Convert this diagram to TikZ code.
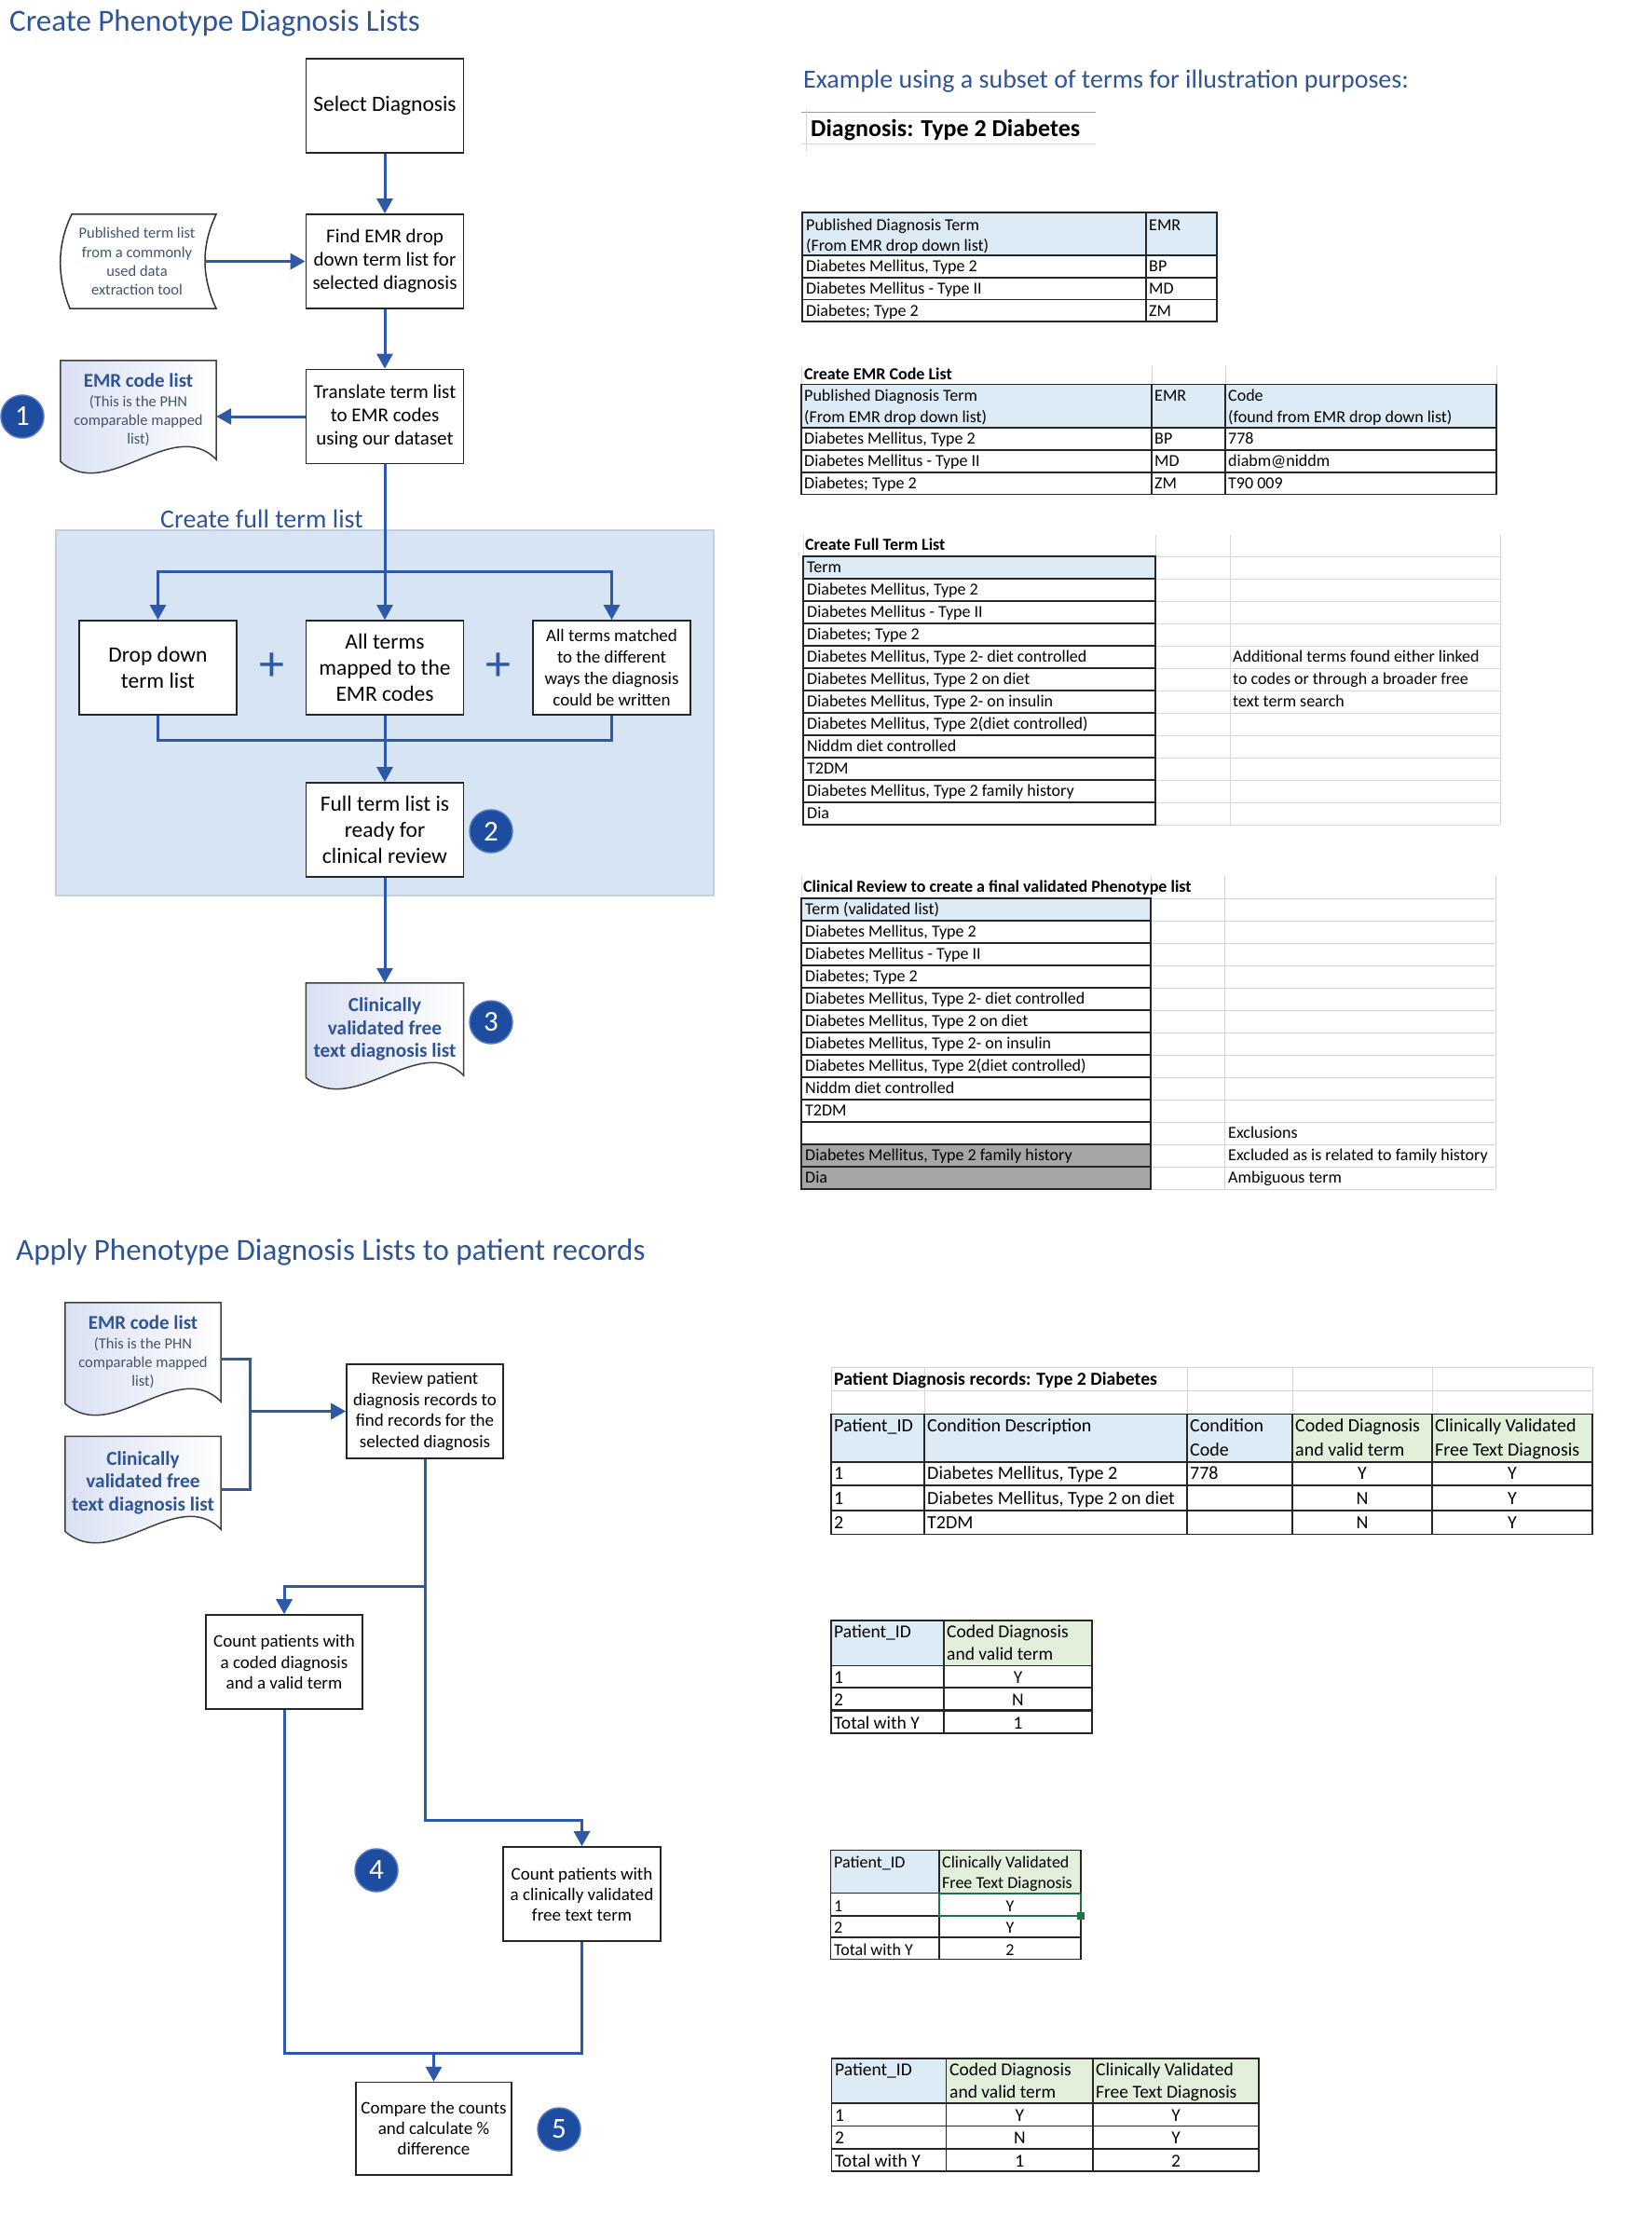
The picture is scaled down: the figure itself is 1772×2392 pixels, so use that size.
\documentclass[tikz,border=0pt]{standalone}
\usepackage{fontspec}
\setmainfont{Carlito}
\usetikzlibrary{arrows.meta}
\usetikzlibrary{calc}
\usetikzlibrary{backgrounds}

\definecolor{flowblue}{RGB}{46,89,168}
\definecolor{headblue}{RGB}{47,84,150}
\definecolor{panelblue}{RGB}{214,228,244}
\definecolor{paneledge}{RGB}{196,208,224}
\definecolor{numblue}{RGB}{30,76,160}
\definecolor{numedge}{RGB}{80,120,196}
\definecolor{notegray}{RGB}{68,84,106}
\definecolor{docshade}{RGB}{218,224,243}
\definecolor{cellblue}{RGB}{221,235,247}
\definecolor{cellgreen}{RGB}{226,239,218}
\definecolor{cellgray}{RGB}{166,166,166}
\definecolor{gridgray}{RGB}{214,214,214}
\definecolor{selgreen}{RGB}{33,115,70}

\newcommand{\fTitle}{\fontsize{33}{40}\selectfont}
\newcommand{\fSub}{\fontsize{28}{34}\selectfont}
\newcommand{\fDiag}{\fontsize{26}{31}\selectfont\bfseries}
\newcommand{\fBig}{\fontsize{23.5}{28}\selectfont}
\newcommand{\fBox}{\fontsize{21}{25}\selectfont}
\newcommand{\fSmall}{\fontsize{19}{22.8}\selectfont}
\newcommand{\fNote}{\fontsize{16.5}{20.3}\selectfont}
\newcommand{\fDocT}{\fontsize{21}{25}\selectfont\bfseries}
\newcommand{\fDoc}{\fontsize{21.3}{24.5}\selectfont\bfseries}
\newcommand{\fNum}{\fontsize{31}{31}\selectfont}
\newcommand{\fPlus}{\fontsize{54}{54}\selectfont}
\newcommand{\fTab}{\fontsize{18}{21}\selectfont}
\newcommand{\fTabB}{\fontsize{18}{21}\selectfont\bfseries}
\newcommand{\fTabL}{\fontsize{19.5}{23}\selectfont}
\newcommand{\fTabW}{\fontsize{20}{24}\selectfont}
\newcommand{\fTabLB}{\fontsize{19.7}{23}\selectfont\bfseries}

\newcommand{\docoutline}[1]{%
\draw[docline] (#1.north west) -- (#1.north east) -- (#1.south east)
.. controls ($(#1.south east)!0.28!(#1.south west)+(0,-48)$) and ($(#1.south east)!0.7!(#1.south west)+(0,47)$) .. ($(#1.south west)+(0,2)$) -- cycle;}

\begin{document}
\begin{tikzpicture}[x=1pt,y=-1pt,
box/.style={draw=black!85,fill=white,line width=1.8pt,minimum width=169pt,minimum height=101pt,inner sep=0pt,align=center},
docbox/.style={minimum width=167pt,inner sep=0pt,align=center},
docline/.style={draw=black!75,line width=1.5pt,left color=docshade,right color=white},
tapeline/.style={draw=black!80,line width=1.5pt,fill=white},
num/.style={circle,fill=numblue,draw=numedge,line width=1.5pt,minimum size=46pt,inner sep=0pt,text=white,font=\fNum},
plussign/.style={text=flowblue,font=\fPlus,inner sep=0pt},
flow/.style={draw=flowblue,line width=3pt,-{Triangle[length=16pt,width=17pt]}},
link/.style={draw=flowblue,line width=3pt},
tab/.style={draw=black!85,line width=1.4pt},
tabthick/.style={draw=black!85,line width=2.6pt},
xlgrid/.style={draw=gridgray,line width=1pt},
cell/.style={anchor=west,inner sep=0pt,text height=11.5pt,text depth=0pt,font=\fTab},
ccell/.style={cell,anchor=center},
lcell/.style={cell,font=\fTabL,text height=12.5pt},
lccell/.style={lcell,anchor=center}]
\useasboundingbox (0,0) rectangle (1772,2392);

\node (t1) [anchor=base west,inner sep=0pt,font=\fTitle,text=headblue] at (10,34) {Create Phenotype Diagnosis Lists};
\node (t2) [anchor=base west,inner sep=0pt,font=\fTitle,text=headblue] at (17,1352) {Apply Phenotype Diagnosis Lists to patient records};

\draw[tapeline] (77,230) -- (232,230) .. controls (216,263) and (216,297) .. (232,331) -- (75,331) .. controls (61,297) and (61,263) .. (77,230) -- cycle;
\fill[panelblue,draw=paneledge,line width=1.5pt] (60,569) rectangle (766,961);

\node (sel) [box,font=\fBig] at (413,113.5) {Select Diagnosis};
\node (find) [box,font=\fBox] at (413,280.5) {Find EMR drop\\down term list for\\selected diagnosis};
\node (trans) [box,font=\fBox] at (413,447) {Translate term list\\to EMR codes\\using our dataset};
\node (pub) [minimum width=146pt,minimum height=101pt,inner sep=0pt,align=center,font=\fNote,text=notegray] at (147,280.5) {Published term list\\from a commonly\\used data\\extraction tool};
\node (emr1) [docbox,minimum height=106pt,font=\fNote,text=notegray] at (148.5,440) {{\fDocT\color{headblue}EMR code list}\\(This is the PHN\\comparable mapped\\list)};
\node (n1) [num] at (24,447) {1};

\draw[flow] (sel) -- (find);
\draw[flow] (pub) -- (find);
\draw[flow] (find) -- (trans);
\draw[flow] (trans.west) -- (trans.west -| emr1.east);

\node (lbl) [anchor=base west,inner sep=0pt,font=\fSub,text=headblue] at (172,566) {Create full term list};
\node (drop) [box,font=\fBig] at (169.5,716.5) {Drop down\\term list};
\node (mapped) [box,font=\fBig] at (413,716.5) {All terms\\mapped to the\\EMR codes};
\node (matched) [box,font=\fSmall] at (656.5,716.5) {All terms matched\\to the different\\ways the diagnosis\\could be written};
\node (p1) [plussign] at (292,716) {+};
\node (p2) [plussign] at (535,716) {+};
\node (full) [box,font=\fBig] at (413,890.5) {Full term list is\\ready for\\clinical review};
\node (n2) [num] at (527,892) {2};
\node (cv1) [docbox,minimum width=169pt,minimum height=99pt,font=\fDoc,text=headblue] at (413,1104.5) {Clinically\\validated free\\text diagnosis list};
\node (n3) [num] at (527,1097) {3};

\coordinate (fan) at (413,613);
\coordinate (join) at (413,794);
\draw[flow] (trans) -- (mapped);
\draw[flow] (fan) -| (drop);
\draw[flow] (fan) -| (matched);
\draw[link] (drop) |- (join) -| (matched);
\draw[flow] (mapped) -- (full);
\draw[flow] (full) -- (cv1);

\node (emr2) [docbox,minimum height=106pt,font=\fNote,text=notegray] at (153.5,1451) {{\fDocT\color{headblue}EMR code list}\\(This is the PHN\\comparable mapped\\list)};
\node (cv2) [docbox,minimum height=99.5pt,font=\fDoc,text=headblue] at (153.5,1591.3) {Clinically\\validated free\\text diagnosis list};
\node (review) [box,line width=1.6pt,minimum width=168pt,font=\fSmall] at (456,1514.5) {Review patient\\diagnosis records to\\find records for the\\selected diagnosis};
\node (count1) [box,line width=1.6pt,minimum width=168pt,font=\fSmall] at (305,1783.5) {Count patients with\\a coded diagnosis\\and a valid term};
\node (count2) [box,line width=1.6pt,font=\fontsize{19}{22}\selectfont] at (624.5,2032.5) {Count patients with\\a clinically validated\\free text term};
\node (compare) [box,line width=1.6pt,minimum width=167pt,minimum height=99.5pt,font=\fontsize{19}{22}\selectfont] at (465.5,2284.3) {Compare the counts\\and calculate \%\\difference};
\node (n4) [num] at (404,2007) {4};
\node (n5) [num] at (600,2285) {5};

\coordinate (jn) at (268,1514.5);
\coordinate (s1) at (305,1702);
\coordinate (s2) at (624.5,1953);
\coordinate (m2) at (465.5,2203.5);
\draw[link] ([yshift=-7pt]emr2.east) -| (jn) |- ([yshift=-7pt]cv2.east);
\draw[flow] (jn) -- (review);
\draw[flow] (review) |- (s1) -- (count1);
\draw[flow] (review) |- (s2) -- (count2);
\draw[link] (count1) |- (m2) -| (count2);
\draw[flow] (m2) -- (compare);

\begin{scope}[on background layer]
\docoutline{emr1}
\docoutline{cv1}
\docoutline{emr2}
\docoutline{cv2}
\end{scope}

\node (ex) [anchor=base west,inner sep=0pt,font=\fSub,text=headblue] at (862,95) {Example using a subset of terms for illustration purposes:};
\draw[draw=black!40,line width=1.2pt] (860,120.7) -- (1176,120.7);
\draw[xlgrid] (860,155) -- (1176,155) (865,118) -- (865,163);
\node (dg) [anchor=base west,inner sep=0pt,font=\fDiag] at (870,146.7) {Diagnosis: Type 2 Diabetes};

\fill[cellblue] (861,228) rectangle (1306,274);
\draw[tab] (861,228) rectangle (1306,345) (1230,228) -- (1230,345);
\foreach \y in {274,298,321.7} \draw[tab] (861,\y) -- (1306,\y);
\node (pa) [cell] at (865,241.7) {Published Diagnosis Term};
\node (pb) [cell] at (865,264) {(From EMR drop down list)};
\node (pc) [cell] at (1233,241.7) {EMR};
\foreach \lbl/\emr [count=\k] in {{Diabetes Mellitus, Type 2}/BP,{Diabetes Mellitus - Type II}/MD,{Diabetes; Type 2}/ZM}{
\node (pt\k) [cell] at (865,262.3+23.7*\k) {\lbl};
\node (pe\k) [cell] at (1233,262.3+23.7*\k) {\emr};}

\draw[xlgrid] (860,393) -- (860,412.7) (1236,393) -- (1236,412.7) (1315,393) -- (1315,412.7) (1606,393) -- (1606,412.7);
\node (ct) [cell,font=\fTabB] at (863,401.7) {Create EMR Code List};
\fill[cellblue] (860,412.7) rectangle (1606,459);
\draw[tab] (860,412.7) rectangle (1606,530.7) (1236,412.7) -- (1236,530.7) (1315,412.7) -- (1315,530.7);
\foreach \y in {459,483,507} \draw[tab] (860,\y) -- (1606,\y);
\node (ca) [cell] at (863,425) {Published Diagnosis Term};
\node (cb) [cell] at (863,448) {(From EMR drop down list)};
\node (cc) [cell] at (1239,425) {EMR};
\node (cd) [cell] at (1318,425) {Code};
\node (ce) [cell] at (1318,448) {(found from EMR drop down list)};
\foreach \lbl/\emr/\code [count=\k] in {{Diabetes Mellitus, Type 2}/BP/778,{Diabetes Mellitus - Type II}/MD/diabm@niddm,{Diabetes; Type 2}/ZM/T90 009}{
\node (cl\k) [cell] at (863,447+24*\k) {\lbl};
\node (cm\k) [cell] at (1239,447+24*\k) {\emr};
\node (cn\k) [cell] at (1318,447+24*\k) {\code};}

\draw[xlgrid] (862,574) -- (862,597) (1240,574) -- (1240,597) (1320,574) -- (1320,885) (1610,574) -- (1610,885);
\foreach \k in {0,...,12} \draw[xlgrid] (1240,597+24*\k) -- (1610,597+24*\k);
\node (ftt) [cell,font=\fTabB] at (864,585) {Create Full Term List};
\fill[cellblue] (862,597) rectangle (1240,621);
\draw[tab] (862,597) rectangle (1240,885);
\foreach \k in {1,...,11} \draw[tab] (862,597+24*\k) -- (1240,597+24*\k);
\node (ft0) [cell] at (866,609) {Term};
\foreach \lbl [count=\k] in {{Diabetes Mellitus, Type 2},{Diabetes Mellitus - Type II},{Diabetes; Type 2},{Diabetes Mellitus, Type 2- diet controlled},{Diabetes Mellitus, Type 2 on diet},{Diabetes Mellitus, Type 2- on insulin},{Diabetes Mellitus, Type 2(diet controlled)},{Niddm diet controlled},{T2DM},{Diabetes Mellitus, Type 2 family history},{Dia}}
\node (ft\k) [cell] at (866,609+24*\k) {\lbl};
\node (fa) [cell] at (1323,705) {Additional terms found either linked};
\node (fb) [cell] at (1323,729) {to codes or through a broader free};
\node (fc) [cell] at (1323,753) {text term search};

\draw[xlgrid] (860,940) -- (860,964) (1235,940) -- (1235,964) (1314,940) -- (1314,1276) (1605,940) -- (1605,1276);
\foreach \k in {0,...,13} \draw[xlgrid] (1235,964+24*\k) -- (1605,964+24*\k);
\node (vtt) [cell,font=\fTabB] at (862,952) {Clinical Review to create a final validated Phenotype list};
\fill[cellblue] (860,964) rectangle (1235,988);
\fill[cellgray] (860,1228) rectangle (1235,1276);
\draw[tab] (860,964) rectangle (1235,1276);
\foreach \k in {1,...,12} \draw[tab] (860,964+24*\k) -- (1235,964+24*\k);
\node (vt0) [cell] at (864,976) {Term (validated list)};
\foreach \lbl [count=\k] in {{Diabetes Mellitus, Type 2},{Diabetes Mellitus - Type II},{Diabetes; Type 2},{Diabetes Mellitus, Type 2- diet controlled},{Diabetes Mellitus, Type 2 on diet},{Diabetes Mellitus, Type 2- on insulin},{Diabetes Mellitus, Type 2(diet controlled)},{Niddm diet controlled},{T2DM}}
\node (vt\k) [cell] at (864,976+24*\k) {\lbl};
\node (vt11) [cell] at (864,1240) {Diabetes Mellitus, Type 2 family history};
\node (vt12) [cell] at (864,1264) {Dia};
\node (xa) [cell] at (1318,1216) {Exclusions};
\node (xb) [cell] at (1318,1240) {Excluded as is related to family history};
\node (xc) [cell] at (1318,1264) {Ambiguous term};

\foreach \x in {892,992,1274,1387,1537,1709} \draw[xlgrid] (\x,1467) -- (\x,1517.7);
\draw[xlgrid] (892,1467) -- (1709,1467) (892,1492) -- (1709,1492);
\node (pdt) [lcell,font=\fTabLB] at (895,1480.7) {Patient Diagnosis records: Type 2 Diabetes};
\fill[cellblue] (892,1517.7) rectangle (1387,1569);
\fill[cellgreen] (1387,1517.7) rectangle (1709,1569);
\draw[tab] (892,1517.7) rectangle (1709,1646.7);
\foreach \x in {992,1274,1387,1537} \draw[tab] (\x,1517.7) -- (\x,1646.7);
\draw[tab] (892,1569) -- (1709,1569) (892,1594) -- (1709,1594);
\draw[tabthick] (892,1621) -- (1709,1621);
\node (ha) [lcell,font=\fTabW] at (895,1530.7) {Patient\_ID};
\node (hb) [lcell,font=\fTabW] at (995,1530.7) {Condition Description};
\node (hc) [lcell,font=\fTabW] at (1277,1530.7) {Condition};
\node (hd) [lcell,font=\fTabW] at (1277,1556) {Code};
\node (he) [lcell,font=\fTabW] at (1390,1530.7) {Coded Diagnosis};
\node (hf) [lcell,font=\fTabW] at (1390,1556) {and valid term};
\node (hg) [lcell,font=\fTabW] at (1540,1530.7) {Clinically Validated};
\node (hh) [lcell,font=\fTabW] at (1540,1556) {Free Text Diagnosis};
\foreach \pid/\cond/\code/\cd/\cv [count=\k] in {1/{Diabetes Mellitus, Type 2}/778/Y/Y,1/{Diabetes Mellitus, Type 2 on diet}/{}/N/Y,2/T2DM/{}/N/Y}{
\node (ra\k) [lcell,font=\fTabW] at (895,1555.2+26.3*\k) {\pid};
\node (rb\k) [lcell,font=\fTabW] at (995,1555.2+26.3*\k) {\cond};
\node (rc\k) [lcell,font=\fTabW] at (1277,1555.2+26.3*\k) {\code};
\node (rd\k) [lccell,font=\fTabW] at (1462,1555.2+26.3*\k) {\cd};
\node (re\k) [lccell,font=\fTabW] at (1623,1555.2+26.3*\k) {\cv};}

\fill[cellblue] (892,1739) rectangle (1013,1787.7);
\fill[cellgreen] (1013,1739) rectangle (1172,1787.7);
\draw[tab] (892,1739) rectangle (1172,1860) (1013,1739) -- (1013,1860) (892,1787.7) -- (1172,1787.7) (892,1811) -- (1172,1811);
\draw[tabthick] (892,1835.7) -- (1172,1835.7);
\node (ia) [lcell] at (895,1751.7) {Patient\_ID};
\node (ib) [lcell] at (1016,1751.7) {Coded Diagnosis};
\node (ic) [lcell] at (1016,1775) {and valid term};
\foreach \pid/\val [count=\k] in {1/Y,2/N,Total with Y/1}{
\node (ip\k) [lcell] at (895,1775.5+24.5*\k) {\pid};
\node (iv\k) [lccell] at (1092.5,1775.5+24.5*\k) {\val};}

\fill[cellblue] (891.7,1985.7) rectangle (1008,2031.7);
\fill[cellgreen] (1008,1985.7) rectangle (1160,2031.7);
\draw[tab] (891.7,1985.7) rectangle (1160,2102.7) (1008,1985.7) -- (1008,2102.7) (891.7,2031.7) -- (1160,2031.7) (891.7,2056) -- (1160,2056);
\draw[tabthick] (891.7,2079) -- (1160,2079);
\draw[draw=selgreen,line width=2.2pt] (1008,2031.7) rectangle (1160,2056);
\fill[selgreen] (1156,2052) rectangle (1164,2060);
\node (ja) [lcell,font=\fTab] at (895,1998.3) {Patient\_ID};
\node (jb) [lcell,font=\fTab] at (1011,1998.3) {Clinically Validated};
\node (jc) [lcell,font=\fTab] at (1011,2020.7) {Free Text Diagnosis};
\foreach \pid/\val [count=\k] in {1/Y,2/Y,Total with Y/2}{
\node (jp\k) [lcell,font=\fTab] at (895,2021.5+23.6*\k) {\pid};
\node (jv\k) [lccell,font=\fTab] at (1084,2021.5+23.6*\k) {\val};}

\fill[cellblue] (892.7,2209) rectangle (1015.7,2257);
\fill[cellgreen] (1015.7,2209) rectangle (1351,2257);
\draw[tab] (892.7,2209) rectangle (1351,2330) (1015.7,2209) -- (1015.7,2330) (1173,2209) -- (1173,2330) (892.7,2257) -- (1351,2257) (892.7,2281.7) -- (1351,2281.7);
\draw[tabthick] (892.7,2306) -- (1351,2306);
\node (ka) [lcell] at (896,2221.7) {Patient\_ID};
\node (kb) [lcell] at (1019,2221.7) {Coded Diagnosis};
\node (kc) [lcell] at (1019,2245) {and valid term};
\node (kd) [lcell] at (1176,2221.7) {Clinically Validated};
\node (ke) [lcell] at (1176,2245) {Free Text Diagnosis};
\foreach \pid/\cd/\cv [count=\k] in {1/Y/Y,2/N/Y,Total with Y/1/2}{
\node (kp\k) [lcell] at (896,2246.5+24.1*\k) {\pid};
\node (kq\k) [lccell] at (1094.4,2246.5+24.1*\k) {\cd};
\node (kr\k) [lccell] at (1262,2246.5+24.1*\k) {\cv};}
\end{tikzpicture}
\end{document}
